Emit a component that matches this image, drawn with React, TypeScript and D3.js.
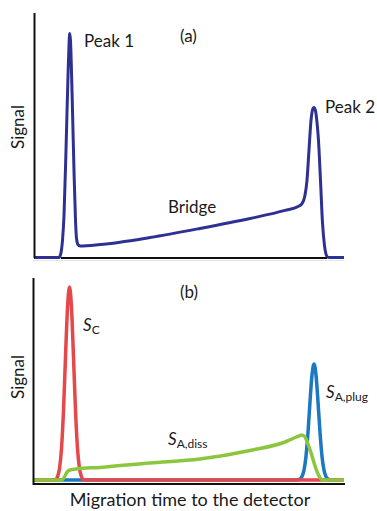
import React from "react";
import * as d3 from "d3";

// migration time (0-100) vs signal (0-100)
const bridgeTime = [0, 8.06, 8.71, 9.19, 9.68, 10.32, 10.97, 11.29, 11.52, 11.77, 12.26, 12.9, 13.39, 13.71, 14.19, 14.84, 21.3, 37.4, 53.5, 69.7, 80.97, 85.2, 86.45, 87.4, 88.06, 88.7, 89.35, 90.0, 90.3, 90.8, 91.3, 91.77, 92.42, 93.06, 93.71, 94.52, 95.16, 100];
const bridgeSignal = [0, 0, 2.0, 7.0, 17.2, 43.9, 74.6, 86.9, 91.8, 88.9, 68.4, 35.7, 15.2, 7.8, 5.3, 4.7, 5.3, 8.2, 11.9, 16.0, 19.3, 20.9, 22.1, 25.4, 31.6, 43.9, 56.1, 61.1, 61.5, 60.2, 55.3, 48.0, 31.6, 14.3, 4.9, 0.4, 0, 0];

const cTime = [0, 6.9, 7.58, 8.23, 8.87, 9.52, 10.16, 10.81, 11.45, 12.1, 12.74, 13.39, 14.03, 14.68, 15.32, 16, 100];
const cSignal = [0, 0, 1.65, 5.7, 15.75, 34.75, 61.5, 86, 96.5, 86, 61.5, 34.75, 15.75, 5.7, 1.65, 0, 0];

const plugTime = [0, 85.16, 85.8, 86.45, 87.1, 87.74, 88.39, 89.03, 89.68, 90.32, 90.97, 91.61, 92.26, 92.9, 93.55, 94.19, 94.84, 95.48, 100];
const plugSignal = [0, 0, 0.5, 1.7, 4.9, 11.9, 23.8, 39.1, 52.5, 58, 52.5, 39.1, 23.8, 11.9, 4.9, 1.7, 0.5, 0, 0];

const dissTime = [0, 9.03, 9.84, 10.65, 11.61, 13.55, 21.3, 37.4, 53.5, 69.7, 80.97, 85.16, 86.45, 87.42, 88.39, 89.68, 90.97, 92.1, 92.9, 100];
const dissSignal = [0, 0, 1.5, 4, 5, 5.5, 6.3, 8.5, 10.5, 14.75, 19, 21.8, 22.5, 21.5, 18, 12, 5.5, 1.5, 0, 0];

const font = "Lato, 'Open Sans', sans-serif";

const zip = (xs: number[], ys: number[]) => xs.map((x, i) => [x, ys[i]] as [number, number]);

export default function App() {
  const x = d3.scaleLinear().domain([0, 100]).range([34, 344]);
  const yA = d3.scaleLinear().domain([0, 100]).range([257.5, 13.5]);
  const yB = d3.scaleLinear().domain([0, 100]).range([480, 280]);

  const lineA = d3.line<[number, number]>().x(d => x(d[0])).y(d => yA(d[1])).curve(d3.curveMonotoneX);
  const lineB = d3.line<[number, number]>().x(d => x(d[0])).y(d => yB(d[1])).curve(d3.curveMonotoneX);

  const txt = { fontFamily: font, fontSize: 17, fill: "#1a1a1a" };

  return (
    <svg width={377} height={511} style={{ position: "absolute", left: 0, top: 0 }}>
      <rect width={377} height={511} fill="#fff" />

      {/* panel (a) */}
      <line x1={33} x2={345} y1={260.5} y2={260.5} stroke="#e6e6e6" strokeWidth={1} />
      <path d={lineA(zip(bridgeTime, bridgeSignal)) || ""} fill="none" stroke="#2e3192" strokeWidth={3} strokeLinejoin="round" />
      <line x1={x(bridgeTime[2])} x2={x(bridgeTime[35])} y1={258} y2={258} stroke="#111" strokeWidth={2} />
      <line x1={34.5} x2={34.5} y1={13} y2={258} stroke="#111" strokeWidth={2} />
      <text {...txt} x={84} y={47}>Peak 1</text>
      <text {...txt} x={180} y={42}>(a)</text>
      <text {...txt} x={325} y={113}>Peak 2</text>
      <text {...txt} x={168} y={213}>Bridge</text>
      <text {...txt} transform="translate(24,127) rotate(-90)" textAnchor="middle">Signal</text>

      {/* panel (b) */}
      <path d={lineB(zip(plugTime, plugSignal)) || ""} fill="none" stroke="#1b78c2" strokeWidth={3.5} strokeLinejoin="round" />
      <path d={lineB(zip(cTime, cSignal)) || ""} fill="none" stroke="#e5474a" strokeWidth={3.5} strokeLinejoin="round" />
      <path d={lineB(zip(dissTime, dissSignal)) || ""} fill="none" stroke="#8cc63f" strokeWidth={3.5} strokeLinejoin="round" />
      <line x1={33.5} x2={33.5} y1={278} y2={485} stroke="#111" strokeWidth={2} />
      <line x1={33} x2={345} y1={484} y2={484} stroke="#111" strokeWidth={2} />
      <text {...txt} x={180} y={298}>(b)</text>
      <text {...txt} x={83} y={331}>
        <tspan fontStyle="italic">S</tspan>
        <tspan fontSize={12} dy={3}>C</tspan>
      </text>
      <text {...txt} x={326} y={398}>
        <tspan fontStyle="italic">S</tspan>
        <tspan fontSize={12} dy={3}>A,plug</tspan>
      </text>
      <text {...txt} x={168} y={445}>
        <tspan fontStyle="italic">S</tspan>
        <tspan fontSize={12} dy={3}>A,diss</tspan>
      </text>
      <text {...txt} transform="translate(24,377) rotate(-90)" textAnchor="middle">Signal</text>
      <text {...txt} fontSize={18} x={190} y={506} textAnchor="middle">Migration time to the detector</text>
    </svg>
  );
}
